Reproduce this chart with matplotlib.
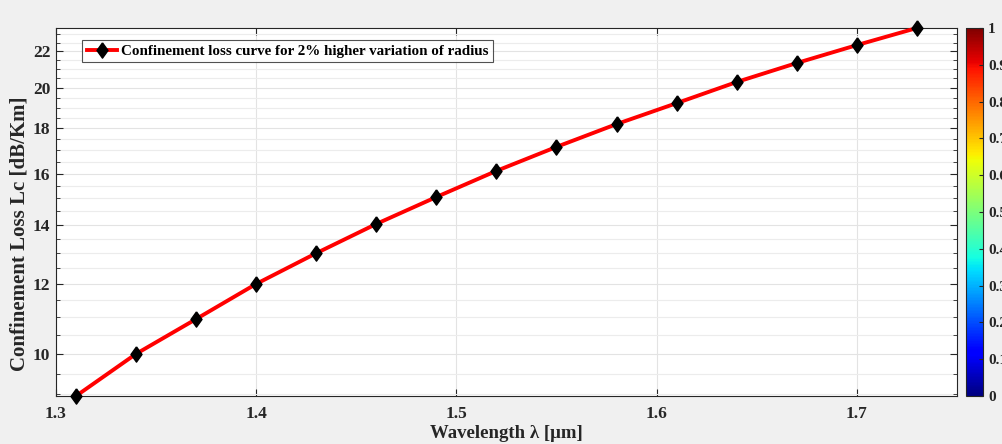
import matplotlib
matplotlib.use("Agg")
import matplotlib.pyplot as plt
import matplotlib.ticker as mticker
import numpy as np

plt.rcParams['font.family'] = ['Liberation Serif', 'DejaVu Serif']
plt.rcParams['font.weight'] = 'bold'

# data
wavelength = [1.31, 1.34, 1.37, 1.40, 1.43, 1.46, 1.49, 1.52, 1.55, 1.58,
              1.61, 1.64, 1.67, 1.70, 1.73]
loss = [8.96, 10.0, 10.95, 12.0, 13.0, 14.03, 15.05, 16.11, 17.15, 18.2,
        19.22, 20.31, 21.34, 22.36, 23.38]
x_ticks = [1.3, 1.4, 1.5, 1.6, 1.7]
y_ticks = [10, 12, 14, 16, 18, 20, 22]
cbar_ticks = [0, 0.1, 0.2, 0.3, 0.4, 0.5, 0.6, 0.7, 0.8, 0.9, 1]
legend_label = 'Confinement loss curve for 2% higher variation of radius'

# matlab-like diamond (a bit taller than wide)
diamond = [(0, 1), (0.72, 0), (0, -1), (-0.72, 0), (0, 1)]

fig = plt.figure(figsize=(10.03, 4.44), dpi=100, facecolor='#f0f0f0')
ax = fig.add_axes([0.0558, 0.1081, 0.8982, 0.8288])
ax.set_facecolor('white')

ax.plot(wavelength, loss, color='#ff0000', lw=2.8, marker=diamond,
        markersize=11, markerfacecolor='black', markeredgecolor='black',
        label=legend_label, zorder=3, clip_on=False)

ax.set_yscale('log')
ax.set_xlim(1.3, 1.75)
ax.set_ylim(min(loss), max(loss))
ax.set_xticks(x_ticks)
ax.xaxis.set_major_formatter(mticker.FormatStrFormatter('%g'))
ax.set_yticks(y_ticks)
ax.yaxis.set_major_formatter(mticker.FormatStrFormatter('%g'))
ax.yaxis.set_minor_locator(mticker.FixedLocator(np.arange(9, 23.6, 0.5)))
ax.yaxis.set_minor_formatter(mticker.NullFormatter())

ax.tick_params(axis='both', which='both', direction='in', top=True,
               right=True, labelsize=12.5, colors='#262626')
ax.tick_params(axis='x', pad=7)
ax.tick_params(axis='y', pad=4)
ax.tick_params(which='major', length=5)
ax.tick_params(which='minor', length=3)
for lab in ax.get_xticklabels() + ax.get_yticklabels():
    lab.set_fontweight('bold')
    lab.set_color('#262626')

ax.grid(True, which='major', color='#e3e3e3', lw=0.8)
ax.grid(True, which='minor', axis='y', color='#ececec', lw=0.8)
ax.set_axisbelow(True)
for s in ax.spines.values():
    s.set_color('#262626')
    s.set_linewidth(0.8)

ax.set_xlabel('Wavelength λ [μm]', fontsize=13.5, fontweight='bold',
              color='#262626', labelpad=2)
ax.set_ylabel('Confinement Loss Lc [dB/Km]', fontsize=15,
              fontweight='bold', color='#262626')
ax.yaxis.set_label_coords(-0.029, 0.44)

leg = ax.legend(loc='upper left', bbox_to_anchor=(0.029, 0.968),
                prop={'weight': 'bold', 'size': 10.8}, frameon=True,
                fancybox=False, edgecolor='#262626', handlelength=2.0,
                borderpad=0.3, handletextpad=0.3, borderaxespad=0.0,
                markerscale=1.0)
leg.get_frame().set_linewidth(0.8)

# colorbar (empty, default jet)
cax = fig.add_axes([0.9631, 0.1081, 0.017, 0.8288])
sm = plt.cm.ScalarMappable(cmap='jet', norm=plt.Normalize(0, 1))
cb = fig.colorbar(sm, cax=cax, ticks=cbar_ticks)
cb.ax.set_yticklabels(['%g' % t for t in cbar_ticks], fontweight='bold',
                      fontsize=11, color='#262626')
cb.ax.tick_params(direction='in', length=3, color='#262626')
cb.outline.set_edgecolor('#262626')
cb.outline.set_linewidth(0.8)

fig.savefig('out.png', dpi=100, facecolor=fig.get_facecolor())
